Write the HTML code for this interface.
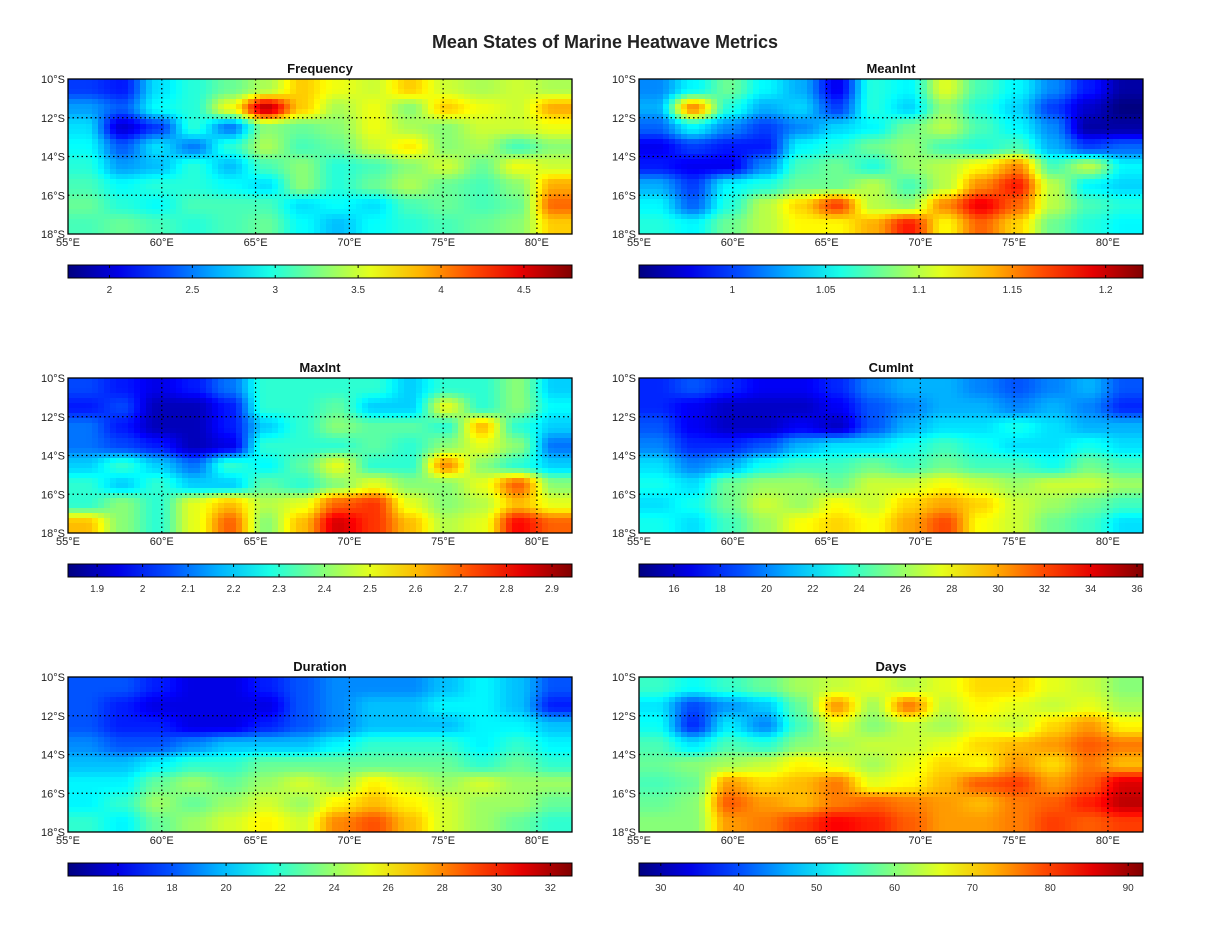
<!DOCTYPE html>
<html><head><meta charset="utf-8">
<style>
html,body{margin:0;padding:0;background:#fff;}
body{width:1210px;height:930px;overflow:hidden;font-family:"Liberation Sans",sans-serif;}
svg text{font-family:"Liberation Sans",sans-serif;}
</style></head>
<body>
<svg id="fig" width="1210" height="930" xmlns="http://www.w3.org/2000/svg">
<text x="605" y="48" text-anchor="middle" font-size="18" font-weight="bold" fill="#222">Mean States of Marine Heatwave Metrics</text>
</svg>
<script>
// ---- data ----
const panelTitles = ["Frequency","MeanInt","MaxInt","CumInt","Duration","Days"];
const lonTicks = [55,60,65,70,75,80];
const latTicks = [10,12,14,16,18];
const cbarRanges = [[1.75,4.79],[0.95,1.22],[1.836,2.944],[14.49,36.26],[14.15,32.8],[27.2,91.9]];
const cbarTicks = [
 ["2","2.5","3","3.5","4","4.5"],
 ["1","1.05","1.1","1.15","1.2"],
 ["1.9","2","2.1","2.2","2.3","2.4","2.5","2.6","2.7","2.8","2.9"],
 ["16","18","20","22","24","26","28","30","32","34","36"],
 ["16","18","20","22","24","26","28","30","32"],
 ["30","40","50","60","70","80","90"]
];
const frequencyGrid = [
 [2.3,2.2,2.8,3.0,3.2,3.4,3.8,3.6,3.5,3.8,3.5,3.4,3.5,3.4],
 [2.6,2.4,2.9,3.0,3.6,4.6,3.8,3.4,3.6,3.3,3.8,3.6,3.5,3.9],
 [2.8,2.0,2.3,3.0,2.5,3.3,3.2,3.3,3.6,3.4,3.3,3.5,3.5,3.6],
 [2.9,2.4,2.8,2.5,3.0,3.4,3.1,3.2,3.5,3.7,3.3,3.4,3.1,3.3],
 [3.0,2.6,2.7,3.0,2.7,3.1,3.3,3.0,3.1,3.3,3.5,3.2,3.6,3.5],
 [3.1,2.9,3.0,3.0,2.9,2.8,3.3,3.0,3.2,3.4,3.2,3.1,3.3,3.9],
 [3.2,3.0,2.9,3.1,3.1,3.1,2.8,2.9,2.8,3.1,3.2,3.1,3.2,4.1],
 [3.1,3.2,3.1,3.0,3.1,3.2,2.9,2.7,2.9,3.0,3.1,3.2,3.3,3.8]];
const meanIntGrid = [
 [1.02,1.05,1.08,1.05,1.03,0.98,1.06,1.05,1.11,1.07,1.05,1.02,0.99,0.96],
 [1.03,1.15,1.06,1.03,1.04,1.0,1.06,1.04,1.09,1.06,1.04,1.0,0.97,0.95],
 [1.01,1.05,1.02,1.0,1.02,1.04,1.05,1.08,1.1,1.07,1.05,1.02,0.96,0.96],
 [0.98,1.0,0.99,0.99,1.05,1.06,1.08,1.09,1.07,1.06,1.07,1.03,1.0,1.01],
 [0.99,0.98,0.98,1.02,1.07,1.08,1.06,1.09,1.1,1.12,1.15,1.07,1.1,1.05],
 [1.03,1.0,1.05,1.06,1.08,1.08,1.1,1.07,1.1,1.15,1.18,1.1,1.05,1.04],
 [1.05,1.01,1.06,1.1,1.13,1.17,1.1,1.09,1.15,1.19,1.16,1.1,1.07,1.06],
 [1.06,1.05,1.08,1.1,1.12,1.12,1.14,1.18,1.12,1.16,1.13,1.08,1.06,1.05]];
const maxIntGrid = [
 [2.05,2.0,1.95,2.0,2.1,2.3,2.3,2.3,2.3,2.2,2.3,2.3,2.4,2.2],
 [2.0,2.05,1.9,1.9,2.0,2.3,2.3,2.35,2.2,2.2,2.5,2.3,2.4,2.25],
 [2.1,2.0,1.9,1.9,2.0,2.2,2.3,2.4,2.35,2.35,2.3,2.6,2.3,2.2],
 [2.1,2.05,2.0,1.9,1.95,2.3,2.3,2.3,2.35,2.3,2.4,2.5,2.4,2.1],
 [2.2,2.3,2.2,2.1,2.3,2.25,2.35,2.5,2.3,2.3,2.65,2.4,2.3,2.2],
 [2.3,2.2,2.3,2.2,2.2,2.35,2.3,2.4,2.5,2.4,2.4,2.5,2.7,2.4],
 [2.3,2.4,2.3,2.5,2.6,2.45,2.5,2.7,2.75,2.5,2.4,2.45,2.6,2.5],
 [2.6,2.4,2.3,2.5,2.7,2.4,2.6,2.85,2.75,2.6,2.45,2.5,2.8,2.7]];
const cumIntGrid = [
 [18,19,18,17,17,18,20,21,21,20,19,20,21,19],
 [18,17,16,16,16,17,19,20,21,21,20,21,20,18],
 [19,17,16,16,17,16,19,21,22,22,23,22,21,21],
 [20,18,18,19,21,22,22,23,24,23,22,22,23,22],
 [22,20,21,23,24,24,25,24,25,24,24,23,25,24],
 [23,22,25,26,26,25,27,27,28,27,26,27,27,26],
 [22,23,25,27,26,28,27,29,30,29,27,26,25,24],
 [23,22,24,26,28,29,28,30,32,28,27,25,24,22]];
const durationGrid = [
 [18,18,17,16,16,17,18,19,19,19,20,21,20,18],
 [18,17,16,16,16,16,18,19,20,20,21,21,20,17],
 [18,17,17,16,16,17,18,19,20,20,20,21,21,20],
 [19,18,18,19,20,20,20,21,22,22,22,21,22,21],
 [20,20,21,22,22,23,23,23,23,23,23,22,23,22],
 [21,21,23,24,23,24,25,24,26,25,24,25,24,24],
 [21,22,24,23,24,25,24,26,27,26,25,24,24,23],
 [22,21,23,24,25,26,25,28,29,27,25,24,23,22]];
const daysGrid = [
 [55,52,55,58,62,64,66,63,66,70,70,66,64,60],
 [50,40,45,48,58,74,62,76,64,68,66,64,66,62],
 [52,38,50,44,56,66,60,64,62,66,64,70,74,68],
 [56,50,56,54,60,62,64,64,66,70,72,74,78,76],
 [58,60,62,64,68,66,62,66,70,68,74,70,76,72],
 [56,58,74,70,72,76,66,68,72,78,80,74,78,86],
 [58,60,78,74,72,76,78,76,74,72,76,78,82,88],
 [60,60,74,76,80,84,82,78,74,74,76,80,78,80]];
const grids = [frequencyGrid,meanIntGrid,maxIntGrid,cumIntGrid,durationGrid,daysGrid];

// ---- drawing ----
const NS="http://www.w3.org/2000/svg";
const fig=document.getElementById('fig');
function mk(tag,attrs,parent){const e=document.createElementNS(NS,tag);for(const k in attrs)e.setAttribute(k,attrs[k]);(parent||fig).appendChild(e);return e;}
function jet(t){t=Math.max(0,Math.min(1,t));
 const f=(x)=>Math.max(0,Math.min(1,x));
 const r=f(Math.min(4*t-1.5,-4*t+4.5)),g=f(Math.min(4*t-0.5,-4*t+3.5)),b=f(Math.min(4*t+0.5,-4*t+2.5));
 return `rgb(${Math.round(r*255)},${Math.round(g*255)},${Math.round(b*255)})`;}
function sample(g,fr,fc){
 const nr=g.length,nc=g[0].length;
 fr=Math.max(0,Math.min(nr-1,fr)); fc=Math.max(0,Math.min(nc-1,fc));
 const r0=Math.floor(fr),c0=Math.floor(fc),r1=Math.min(nr-1,r0+1),c1=Math.min(nc-1,c0+1);
 let tr=fr-r0,tc=fc-c0; tr=tr*tr*(3-2*tr); tc=tc*tc*(3-2*tc);
 const a=g[r0][c0]*(1-tc)+g[r0][c1]*tc, b=g[r1][c0]*(1-tc)+g[r1][c1]*tc;
 return a*(1-tr)+b*tr;}
const colX=[68,639], rowY=[79,378,677], W=504, H=155;
const lon0=55, lon1=81.87, lat0=10, lat1=18;
const defs=mk('defs',{});
const SX=6, SY=5;
for(let p=0;p<6;p++){
 const px=colX[p%2], py=rowY[Math.floor(p/2)];
 const xS=lon=>px+(lon-lon0)/(lon1-lon0)*W;
 const yS=lat=>py+(lat-lat0)/(lat1-lat0)*H;
 const [vmin,vmax]=cbarRanges[p];
 const cS=v=>(v-vmin)/(vmax-vmin);
 const g=grids[p], nr=g.length, nc=g[0].length;
 const t=mk('text',{x:px+W/2,y:py-6,'text-anchor':'middle','font-size':13,'font-weight':'bold',fill:'#111'});
 t.textContent=panelTitles[p];
 
 
 const hg=mk('g',{'shape-rendering':'crispEdges'});
 
 
 const x0=xS(lon0), y0=yS(lat0), pw=xS(lon1)-x0, ph=yS(lat1)-y0;
 for(let y=0;y<ph;y+=SY)for(let x=0;x<pw;x+=SX){
  const fc=(x+SX/2)/pw*nc-0.5, fr=(y+SY/2)/ph*nr-0.5;
  const v=sample(g,fr,fc);
  const cell=mk('rect',{x:x0+x,y:y0+y,width:Math.min(SX,pw-x),height:Math.min(SY,ph-y),fill:jet(cS(v))},hg);
  
  
 }
 lonTicks.forEach(l=>{const x=xS(l);if(l>lon0)mk('line',{x1:x,y1:py,x2:x,y2:py+H,stroke:'#000','stroke-width':1.2,'stroke-dasharray':'1.5,3'});
  const tl=mk('text',{x:x,y:py+H+12,'text-anchor':'middle','font-size':11,fill:'#222'});tl.textContent=l+'°E';
  
  });
 latTicks.forEach(l=>{const y=yS(l);if(l>lat0&&l<lat1)mk('line',{x1:px,y1:y,x2:px+W,y2:y,stroke:'#000','stroke-width':1.2,'stroke-dasharray':'1.5,3'});
  const tl=mk('text',{x:px-3,y:y+4,'text-anchor':'end','font-size':11,fill:'#222'});tl.textContent=l+'°S';
  
  });
 const fr=mk('rect',{x:px,y:py,width:W,height:H,fill:'none',stroke:'#000','stroke-width':1.3});
 
 
 const cy=py+186, ch=13;
 const lg=mk('linearGradient',{id:'jet'+p,x1:0,x2:1,y1:0,y2:0},defs);
 for(let i=0;i<=10;i++)mk('stop',{offset:i/10,'stop-color':jet(i/10)},lg);
 const cb=mk('rect',{x:px,y:cy,width:W,height:ch,fill:`url(#jet${p})`,stroke:'#000','stroke-width':1});
 
 
 cbarTicks[p].forEach(s=>{const v=parseFloat(s);const x=px+cS(v)*W;
  mk('line',{x1:x,y1:cy,x2:x,y2:cy+3,stroke:'#000'});mk('line',{x1:x,y1:cy+ch-3,x2:x,y2:cy+ch,stroke:'#000'});
  const tl=mk('text',{x:x,y:cy+ch+15,'text-anchor':'middle','font-size':10,fill:'#333'});tl.textContent=s;
  
  });
}
</script>
</body></html>
